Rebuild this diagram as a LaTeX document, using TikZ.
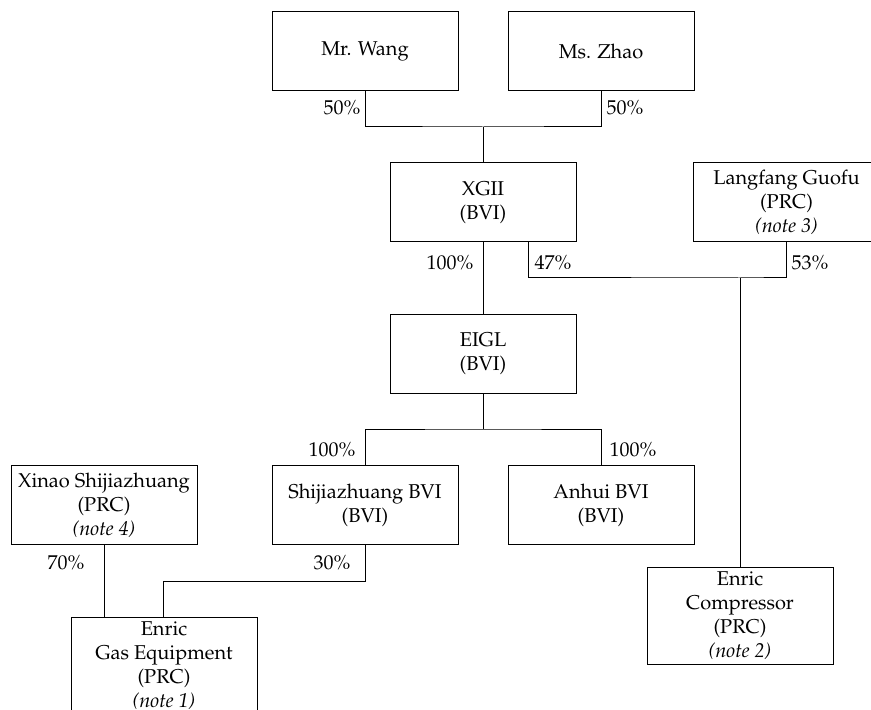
\documentclass[tikz,border=0pt]{standalone}
\usepackage[T1]{fontenc}
\usepackage{mathpazo}

\begin{document}
\begin{tikzpicture}[x=0.5pt,y=-0.5pt,line width=0.5pt,
  co/.style={draw,align=center,minimum width=93pt,minimum height=39.5pt,inner sep=0pt},
  big/.style={co,minimum height=48.5pt},
  pct/.style={inner sep=0pt}]
\useasboundingbox (0,0) rectangle (871,710);

% owners
\node[co] (wang) at (365,51) {Mr. Wang};
\node[co] (zhao) at (601,51) {Ms. Zhao};
\node[co] (xgii) at (483,202.5) {XGII\\(BVI)};
\node[co] (lf) at (786.5,202.5) {Langfang Guofu\\(PRC)\\\textit{(note 3)}};
\node[co] (eigl) at (483,354) {EIGL\\(BVI)};
\node[co] (sjz) at (365,505) {Shijiazhuang BVI\\(BVI)};
\node[co] (anhui) at (601,505) {Anhui BVI\\(BVI)};
\node[co] (xinao) at (104,505) {Xinao Shijiazhuang\\(PRC)\\\textit{(note 4)}};
\node[big] (gas) at (164,665.5) {Enric\\Gas Equipment\\(PRC)\\\textit{(note 1)}};
\node[big] (comp) at (740,615.5) {Enric\\Compressor\\(PRC)\\\textit{(note 2)}};

\coordinate (j1) at (483,127);
\coordinate (j2) at (740,278);
\coordinate (j3) at (483,429);
\coordinate (xgiiout) at (528,242);
\coordinate (gasin) at (163,617);

\draw (wang.south) |- (j1) -| (zhao.south);
\draw (j1) -- (xgii.north);
\draw (xgii.south) -- (eigl.north);
\draw (xgiiout) |- (j2) -| (lf.south);
\draw (j2) -- (comp.north);
\draw (eigl.south) -- (j3);
\draw (sjz.north) |- (j3) -| (anhui.north);
\draw (sjz.south) -- ++(0,36) -| (gasin);
\draw (xinao.south) -- (xinao.south |- gas.north);

% shares
\node[pct] (p1) at (342,108) {50\%};
\node[pct] (p2) at (625,108) {50\%};
\node[pct] (p3) at (450,263) {100\%};
\node[pct] (p4) at (553,263) {47\%};
\node[pct] (p5) at (810,263) {53\%};
\node[pct] (p6) at (332,450) {100\%};
\node[pct] (p7) at (633,450) {100\%};
\node[pct] (p8) at (66,563) {70\%};
\node[pct] (p9) at (332,563) {30\%};
\end{tikzpicture}
\end{document}
